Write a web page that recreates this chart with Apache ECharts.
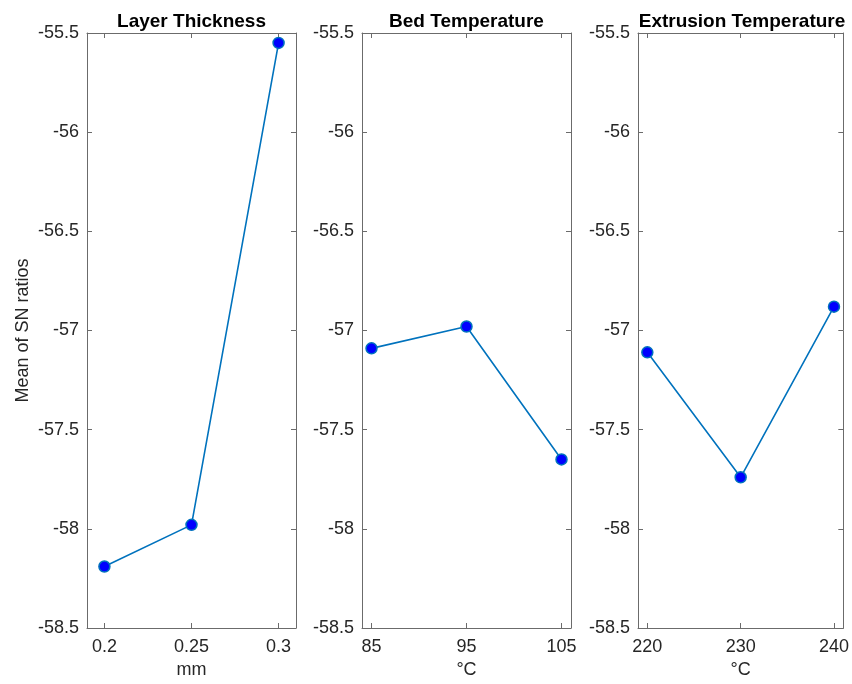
<!DOCTYPE html>
<html>
<head>
<meta charset="utf-8">
<script src="https://cdn.jsdelivr.net/npm/echarts@6.0.0/dist/echarts.min.js"></script>
<style>
  html, body { margin: 0; padding: 0; background: #fff; overflow: hidden; }
  #chart { width: 100vw; height: 100vh; }
</style>
</head>
<body>
<div id="chart"></div>
<script>
// Main-effects plot: mean of SN ratios for each process factor level
const panelTitles = ['Layer Thickness', 'Bed Temperature', 'Extrusion Temperature'];
const panelUnits = ['mm', '°C', '°C'];

const layerThickness = [0.2, 0.25, 0.3];
const bedTemperature = [85, 95, 105];
const extrusionTemperature = [220, 230, 240];

const snLayerThickness = [-58.19, -57.98, -55.55];
const snBedTemperature = [-57.09, -56.98, -57.65];
const snExtrusionTemperature = [-57.11, -57.74, -56.88];

const yTicks = [-58.5, -58, -57.5, -57, -56.5, -56, -55.5];

const levels = [layerThickness, bedTemperature, extrusionTemperature];
const responses = [snLayerThickness, snBedTemperature, snExtrusionTemperature];

// Layout designed for an 852 x 684 canvas, scaled to the actual viewport
const el = document.getElementById('chart');
const W = el.clientWidth || 852;
const H = el.clientHeight || 684;
const sx = W / 852, sy = H / 684;

const gridBoxes = [
  { left: 87, top: 33, width: 209, height: 600 },
  { left: 362, top: 33, width: 209, height: 600 },
  { left: 638, top: 33, width: 208, height: 600 }
].map(g => ({ left: g.left * sx, top: g.top * sy, width: g.width * sx, height: g.height * sy }));
const xRanges = [[0.19, 0.31], [84, 106], [219, 241]];

const FONT = '"Liberation Sans", Arial, Helvetica, sans-serif';
const TEXT = '#262626';
const AXIS = '#6b6b6b';
const LINE = '#0072bd';

const chart = echarts.init(el, null, { renderer: 'canvas' });

const option = {
  animation: false,
  backgroundColor: '#ffffff',
  textStyle: { fontFamily: FONT },
  title: panelTitles.map((t, i) => ({
    text: t,
    left: gridBoxes[i].left + gridBoxes[i].width / 2,
    top: 12 * sy,
    padding: 0,
    textAlign: 'center',
    textStyle: { fontFamily: FONT, fontSize: 19, fontWeight: 'bold', color: '#000' }
  })),
  grid: gridBoxes.map(g => Object.assign({ containLabel: false, show: false }, g)),
  xAxis: [],
  yAxis: [],
  series: []
};

for (let i = 0; i < 3; i++) {
  const [xmin, xmax] = xRanges[i];
  // bottom axis with tick labels
  option.xAxis.push({
    type: 'value', gridIndex: i, position: 'bottom', min: xmin, max: xmax,
    name: panelUnits[i], nameLocation: 'middle', nameGap: 33 * sy,
    nameTextStyle: { fontFamily: FONT, fontSize: 18, color: TEXT },
    axisLine: { show: true, onZero: false, lineStyle: { color: AXIS, width: 1 } },
    axisTick: { show: true, inside: true, length: 5, customValues: levels[i], lineStyle: { color: AXIS } },
    axisLabel: { show: true, customValues: levels[i], margin: 10 * sy, fontFamily: FONT, fontSize: 18, color: TEXT },
    splitLine: { show: false }
  });
  // mirrored top axis (box edge)
  option.xAxis.push({
    type: 'value', gridIndex: i, position: 'top', min: xmin, max: xmax,
    axisLine: { show: true, onZero: false, lineStyle: { color: AXIS, width: 1 } },
    axisTick: { show: true, inside: true, length: 5, customValues: levels[i], lineStyle: { color: AXIS } },
    axisLabel: { show: false },
    splitLine: { show: false }
  });
  // left axis with tick labels
  option.yAxis.push({
    type: 'value', gridIndex: i, position: 'left', min: -58.5, max: -55.5, interval: 0.5,
    name: i === 0 ? 'Mean of SN ratios' : '', nameLocation: 'middle', nameGap: 55 * sx,
    nameTextStyle: { fontFamily: FONT, fontSize: 18, color: TEXT },
    axisLine: { show: true, onZero: false, lineStyle: { color: AXIS, width: 1 } },
    axisTick: { show: true, inside: true, length: 5, lineStyle: { color: AXIS } },
    axisLabel: { show: true, customValues: yTicks, margin: 8 * sx, fontFamily: FONT, fontSize: 18, color: TEXT },
    splitLine: { show: false }
  });
  // mirrored right axis (box edge)
  option.yAxis.push({
    type: 'value', gridIndex: i, position: 'right', min: -58.5, max: -55.5, interval: 0.5,
    axisLine: { show: true, onZero: false, lineStyle: { color: AXIS, width: 1 } },
    axisTick: { show: true, inside: true, length: 5, lineStyle: { color: AXIS } },
    axisLabel: { show: false },
    splitLine: { show: false }
  });

  option.series.push({
    type: 'line',
    xAxisIndex: i * 2,
    yAxisIndex: i * 2,
    data: levels[i].map((x, k) => [x, responses[i][k]]),
    symbol: 'circle',
    symbolSize: 11,
    lineStyle: { color: LINE, width: 1.6 },
    itemStyle: { color: '#0000ff', borderColor: LINE, borderWidth: 1.5 },
    z: 3
  });
}

chart.setOption(option);
window.addEventListener('resize', () => chart.resize());
</script>
</body>
</html>
